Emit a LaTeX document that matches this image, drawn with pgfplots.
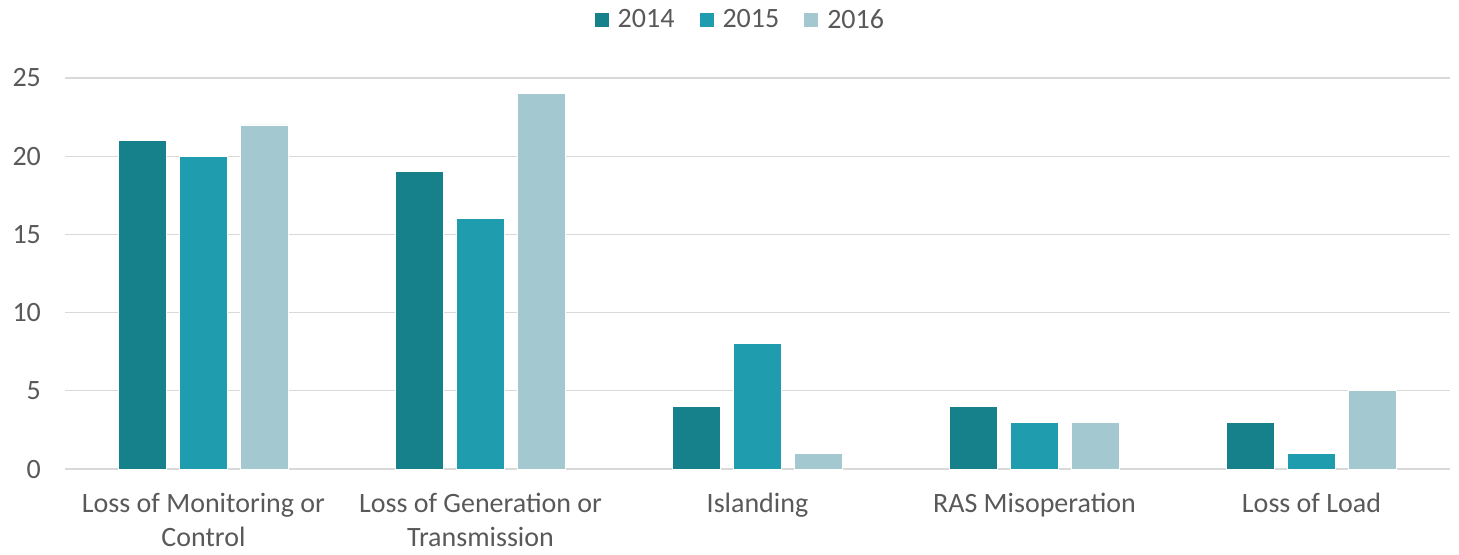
\documentclass[border=0pt]{standalone}
\usepackage{pgfplots}
\pgfplotsset{compat=1.18}
\usepackage{fontspec}
\setmainfont{Carlito}
\definecolor{cA}{HTML}{17818B}
\definecolor{cB}{HTML}{1F9DAF}
\definecolor{cC}{HTML}{A3C8D0}
\definecolor{txt}{HTML}{595959}
\definecolor{grd}{HTML}{D9D9D9}
\begin{document}
\begin{tikzpicture}
\path[use as bounding box] (-32.5pt,-42.5pt) rectangle (697pt,234.5pt);
\begin{axis}[
  at={(0,0)}, anchor=south west,
  scale only axis, width=692.5pt, height=195.5pt,
  xmin=-0.5, xmax=4.5, ymin=0, ymax=25,
  ytick={0,5,10,15,20,25},
  xtick={0,1,2,3,4},
  xticklabels={{Loss of Monitoring or\\Control},{Loss of Generation or\\Transmission},{Islanding},{RAS Misoperation},{Loss of Load}},
  xticklabel style={align=center, text=txt, font=\fontsize{14pt}{17pt}\selectfont, yshift=-8.5pt},
  yticklabel style={text=txt, font=\fontsize{14pt}{17pt}\selectfont, xshift=-8.5pt},
  /pgf/number format/assume math mode=true,
  axis line style={draw=none},
  axis x line*=bottom,
  major tick length=0pt,
  ymajorgrids, grid style={grd, line width=0.6pt},
  extra y ticks={0}, extra y tick labels={},
  extra y tick style={grid style={grd, line width=0.8pt}},
  legend style={at={(0.488,1.148)}, anchor=center, draw=none, legend columns=-1,
     font=\fontsize{14pt}{17pt}\selectfont, text=txt,
     /tikz/every odd column/.append style={column sep=2pt},
     /tikz/every even column/.append style={column sep=10pt}},
  legend image code/.code={\fill[#1] (0pt,-3.8pt) rectangle (7.6pt,3.8pt);},
  bar width=0.173,
]
\addplot[ybar, bar shift=-0.22, fill=cA, draw=white, line width=0.4pt] coordinates {(0,21) (1,19) (2,4) (3,4) (4,3)};
\addplot[ybar, bar shift=0, fill=cB, draw=white, line width=0.4pt] coordinates {(0,20) (1,16) (2,8) (3,3) (4,1)};
\addplot[ybar, bar shift=0.22, fill=cC, draw=white, line width=0.4pt] coordinates {(0,22) (1,24) (2,1) (3,3) (4,5)};
\legend{2014,2015,2016}
\end{axis}
\end{tikzpicture}
\end{document}
